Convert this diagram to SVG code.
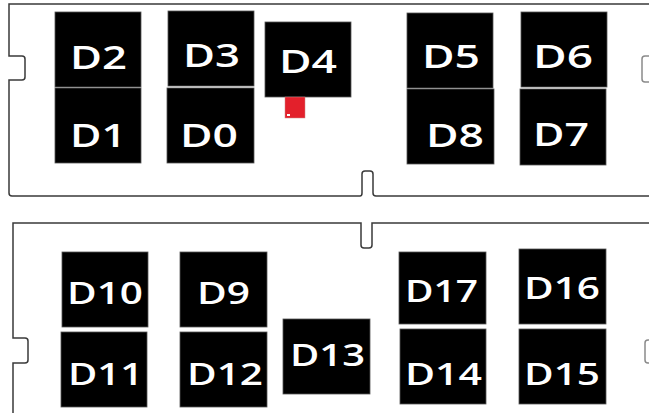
<svg xmlns="http://www.w3.org/2000/svg" width="649" height="413" viewBox="0 0 649 413">
<style>
.board{fill:none;stroke:#3a3a3a;stroke-width:1.5}
.notch{fill:none;stroke:#8a8a8a;stroke-width:1.5}
.chip{fill:#000;stroke:#555;stroke-width:0.8}
.lbl{fill:#fff;font-family:"Open Sans","DejaVu Sans",sans-serif;font-weight:600}
.t{font-size:33px}
.b{font-size:30px}
</style>
<rect width="649" height="413" fill="#fff"/>
<g id="boards">
<path class="board" d="M649,4 H9 V56 H22 Q25,56 25,59 V77 Q25,80 22,80 H9 V193 Q9,196 12,196 H360 Q362,196 362,193 V174 Q362,171 365,171 H370 Q373,171 373,174 V193 Q373,196 376,196 H649"/>
<path class="notch" d="M649,56 H645 Q642,56 642,59 V79 Q642,82 645,82 H649"/>
<path class="board" d="M13,413 V363 H25 Q28,363 28,360 V341 Q28,338 25,338 H13 V223 H361 V245 Q361,248 364,248 H369 Q372,248 372,245 V223 H649"/>
<path class="notch" d="M649,340 H648 Q645,340 645,343 V360 Q645,363 648,363 H649"/>
</g>
<g id="D2"><rect class="chip" x="55" y="12" width="86" height="75"/><text class="lbl t" x="70" y="69" textLength="57" lengthAdjust="spacingAndGlyphs">D2</text></g>
<g id="D1"><rect class="chip" x="55" y="88" width="86" height="75"/><text class="lbl t" x="70" y="147" textLength="56" lengthAdjust="spacingAndGlyphs">D1</text></g>
<g id="D3"><rect class="chip" x="168" y="11" width="86" height="75"/><text class="lbl t" x="183" y="67" textLength="57" lengthAdjust="spacingAndGlyphs">D3</text></g>
<g id="D0"><rect class="chip" x="167" y="88" width="87" height="75"/><text class="lbl t" x="180" y="147" textLength="58" lengthAdjust="spacingAndGlyphs">D0</text></g>
<g id="D4"><rect class="chip" x="265" y="22" width="86" height="75"/><text class="lbl t" x="279" y="73" textLength="58" lengthAdjust="spacingAndGlyphs">D4</text>
<rect x="285" y="97" width="20" height="21" fill="#e3202b" stroke="#c88" stroke-width="0.5"/><rect x="287" y="114" width="3" height="2" fill="#fff"/></g>
<g id="D5"><rect class="chip" x="407" y="13" width="86" height="75"/><text class="lbl t" x="422" y="68" textLength="58" lengthAdjust="spacingAndGlyphs">D5</text></g>
<g id="D8"><rect class="chip" x="407" y="89" width="87" height="75"/><text class="lbl t" x="426" y="147" textLength="58" lengthAdjust="spacingAndGlyphs">D8</text></g>
<g id="D6"><rect class="chip" x="521" y="12" width="86" height="75"/><text class="lbl t" x="533" y="68" textLength="60" lengthAdjust="spacingAndGlyphs">D6</text></g>
<g id="D7"><rect class="chip" x="520" y="89" width="86" height="76"/><text class="lbl t" x="533" y="146" textLength="56" lengthAdjust="spacingAndGlyphs">D7</text></g>
<g id="D10"><rect class="chip" x="62" y="252" width="86" height="75"/><text class="lbl b" x="67" y="304" textLength="76" lengthAdjust="spacingAndGlyphs">D10</text></g>
<g id="D11"><rect class="chip" x="61" y="332" width="86" height="75"/><text class="lbl b" x="68" y="385" textLength="75" lengthAdjust="spacingAndGlyphs">D11</text></g>
<g id="D9"><rect class="chip" x="180" y="252" width="87" height="75"/><text class="lbl b" x="197" y="304" textLength="53" lengthAdjust="spacingAndGlyphs">D9</text></g>
<g id="D12"><rect class="chip" x="180" y="332" width="87" height="75"/><text class="lbl b" x="187" y="385" textLength="76" lengthAdjust="spacingAndGlyphs">D12</text></g>
<g id="D13"><rect class="chip" x="283" y="319" width="87" height="75"/><text class="lbl b" x="290" y="366" textLength="75" lengthAdjust="spacingAndGlyphs">D13</text></g>
<g id="D17"><rect class="chip" x="399" y="252" width="87" height="72"/><text class="lbl b" x="405" y="302" textLength="73" lengthAdjust="spacingAndGlyphs">D17</text></g>
<g id="D14"><rect class="chip" x="400" y="329" width="86" height="75"/><text class="lbl b" x="405" y="385" textLength="77" lengthAdjust="spacingAndGlyphs">D14</text></g>
<g id="D16"><rect class="chip" x="519" y="249" width="87" height="75"/><text class="lbl b" x="524" y="299" textLength="76" lengthAdjust="spacingAndGlyphs">D16</text></g>
<g id="D15"><rect class="chip" x="519" y="329" width="87" height="75"/><text class="lbl b" x="524" y="385" textLength="76" lengthAdjust="spacingAndGlyphs">D15</text></g>
</svg>
